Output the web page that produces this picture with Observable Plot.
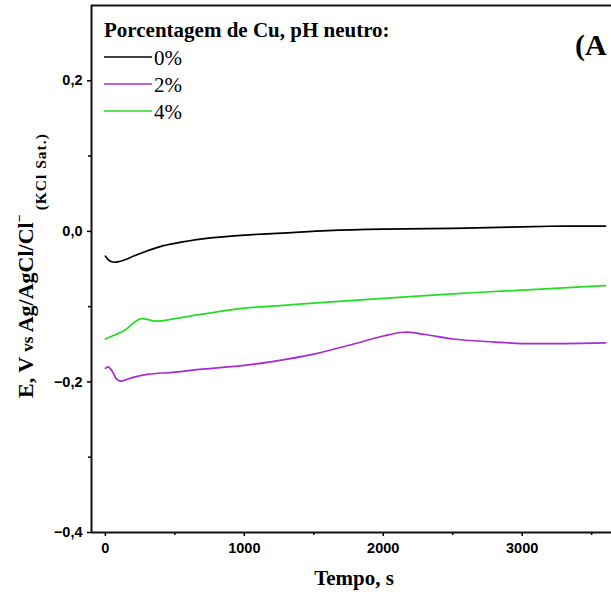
<!DOCTYPE html>
<html>
<head>
<meta charset="utf-8">
<script src="https://cdn.jsdelivr.net/npm/d3@7"></script>
<script src="https://cdn.jsdelivr.net/npm/@observablehq/plot@0.6"></script>
<style>
  html, body { margin: 0; padding: 0; background: #fff; }
  #chart svg { display: block; }
</style>
</head>
<body>
<div id="chart"></div>
<script>
// ---- data ----
const categories = ["0%", "2%", "4%"];
const colors = ["#000000", "#a82ad4", "#22dd22"];

const t0 = [0, 30, 60, 100, 150, 200, 300, 400, 500, 700, 1000, 1300, 1600, 2000, 2500, 3000, 3300, 3600];
const v0 = [-0.033, -0.039, -0.041, -0.040, -0.037, -0.033, -0.026, -0.020, -0.016, -0.010, -0.005, -0.002, 0.001, 0.003, 0.004, 0.006, 0.007, 0.007];

const t2 = [0, 20, 50, 80, 110, 150, 200, 300, 500, 700, 1000, 1200, 1500, 1800, 2000, 2150, 2300, 2500, 2800, 3000, 3300, 3600];
const v2 = [-0.182, -0.180, -0.186, -0.196, -0.199, -0.197, -0.194, -0.190, -0.187, -0.183, -0.178, -0.173, -0.163, -0.149, -0.139, -0.134, -0.137, -0.143, -0.147, -0.149, -0.149, -0.148];

const t4 = [0, 50, 100, 150, 200, 230, 260, 300, 350, 400, 500, 700, 1000, 1300, 1600, 2000, 2500, 3000, 3300, 3600];
const v4 = [-0.143, -0.139, -0.135, -0.130, -0.122, -0.118, -0.116, -0.117, -0.119, -0.119, -0.116, -0.110, -0.102, -0.098, -0.094, -0.089, -0.083, -0.078, -0.075, -0.072];

const xMajorTicks = [0, 1000, 2000, 3000];
const xMinorTicks = [500, 1500, 2500, 3500];
const yMajorTicks = [-0.4, -0.2, 0.0, 0.2];
const yMinorTicks = [-0.3, -0.1, 0.1];

const legendTitle = "Porcentagem de Cu, pH neutro:";
const xTitle = "Tempo, s";
const panelLabel = "(A";

// ---- build table ----
const series = [[t0, v0], [t2, v2], [t4, v4]];
const rows = [];
series.forEach(([ts, vs], i) => ts.forEach((t, j) => rows.push({t, v: vs[j], s: categories[i]})));

const xDomain = [-100, 3643];
const yDomain = [-0.4, 0.3];
const fmtY = d => (d < 0 ? "\u2212" : "") + Math.abs(d).toFixed(1).replace(".", ",");
const SANS = "'Liberation Sans', Arial, sans-serif";
const SERIF = "'Liberation Serif', 'Times New Roman', serif";

const W = 611, H = 597;
const plot = Plot.plot({
  width: W,
  height: H,
  marginLeft: 91,
  marginRight: 0,
  marginTop: 5,
  marginBottom: 65,
  style: {fontFamily: SANS, background: "#fff", overflow: "visible"},
  x: {domain: xDomain},
  y: {domain: yDomain},
  color: {domain: categories, range: colors},
  marks: [
    Plot.axisX({ticks: xMajorTicks, tickSize: 4, tickPadding: 6, tickFormat: d => String(d),
      stroke: "#000", strokeWidth: 1.5, label: null}),
    Plot.axisX({ticks: xMinorTicks, tickSize: 3, tickFormat: () => "", stroke: "#000", strokeWidth: 1.5, label: null}),
    Plot.axisY({ticks: yMajorTicks, tickSize: 4, tickPadding: 5, tickFormat: fmtY,
      stroke: "#000", strokeWidth: 1.5, label: null}),
    Plot.axisY({ticks: yMinorTicks, tickSize: 3, tickFormat: () => "", stroke: "#000", strokeWidth: 1.5, label: null}),
    Plot.line(rows, {x: "t", y: "v", z: "s", stroke: "s", strokeWidth: 1.7, curve: "catmull-rom"}),
    Plot.ruleX([xDomain[0]], {y1: yDomain[0], y2: yDomain[1], stroke: "#111", strokeWidth: 2}),
    Plot.ruleY([yDomain[0]], {stroke: "#111", strokeWidth: 2}),
    Plot.ruleY([yDomain[1]], {stroke: "#111", strokeWidth: 2})
  ]
});
document.getElementById("chart").appendChild(plot);

const svg = d3.select(plot);

// tick label styling (all Plot-generated texts are tick labels)
svg.selectAll("text")
  .style("font-size", "14.5px")
  .style("font-weight", "bold")
  .style("font-family", SANS)
  .attr("fill", "#000");

// x axis title
svg.append("text")
  .attr("x", 354).attr("y", 585)
  .attr("text-anchor", "middle")
  .style("font-family", SERIF).style("font-weight", "bold").style("font-size", "21px")
  .attr("fill", "#000")
  .text(xTitle);

// y axis title
const yt = svg.append("text")
  .attr("transform", "translate(32.5,398) rotate(-90)")
  .attr("text-anchor", "start")
  .style("font-family", SERIF).style("font-weight", "bold")
  .attr("fill", "#000");
yt.append("tspan").style("font-size", "22px").text("E, V ");
yt.append("tspan").style("font-size", "17px").text("vs ");
yt.append("tspan").style("font-size", "22px").text("Ag/AgCl/Cl");
yt.append("tspan").style("font-size", "14px").attr("dy", -9).text("\u2212");
yt.append("tspan").style("font-size", "15.5px").style("letter-spacing", "1px").attr("dy", 22).attr("dx", 4).text("(KCl Sat.)");

// legend
svg.append("text")
  .attr("x", 104).attr("y", 37)
  .attr("text-anchor", "start")
  .style("font-family", SERIF).style("font-weight", "bold").style("font-size", "21px")
  .attr("fill", "#000")
  .text(legendTitle);
const lg = svg.append("g");
categories.forEach((c, i) => {
  const y = 57 + i * 27;
  lg.append("line").attr("x1", 104).attr("x2", 152).attr("y1", y).attr("y2", y)
    .attr("stroke", colors[i]).attr("stroke-width", 1.7);
  lg.append("text").attr("x", 154).attr("y", y + 8)
    .attr("text-anchor", "start")
    .style("font-family", SERIF).style("font-weight", "normal").style("font-size", "21px").attr("fill", "#000")
    .text(c);
});

// panel label
svg.append("text")
  .attr("x", 575).attr("y", 55)
  .attr("text-anchor", "start")
  .style("font-family", SERIF).style("font-weight", "bold").style("font-size", "30px")
  .attr("fill", "#000")
  .text(panelLabel);
</script>
</body>
</html>
